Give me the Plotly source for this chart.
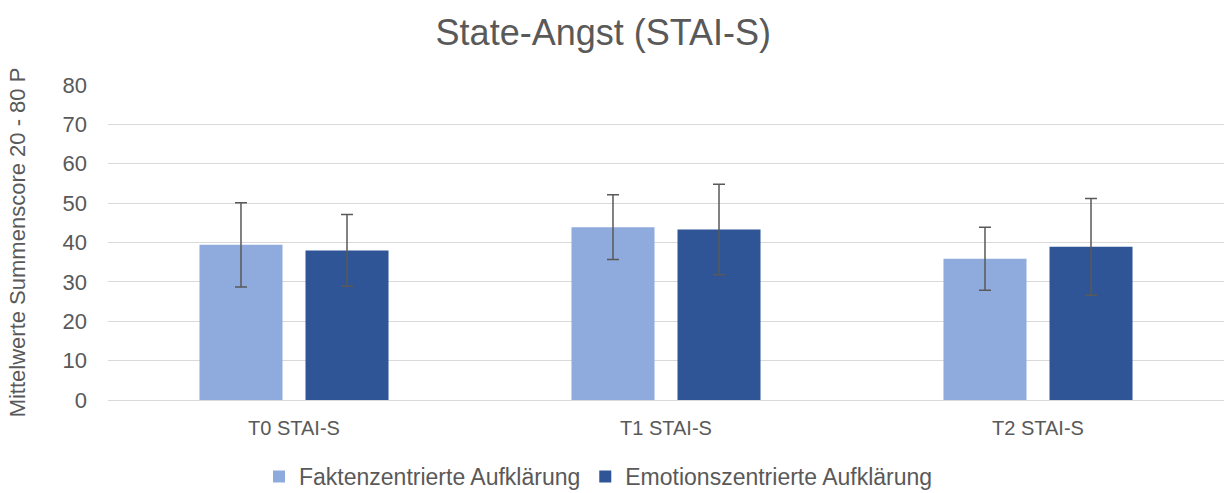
import plotly.graph_objects as go

categories = ["T0 STAI-S", "T1 STAI-S", "T2 STAI-S"]
series_names = ["Faktenzentrierte Aufklärung", "Emotionszentrierte Aufklärung"]
fakten_mean = [39.4, 43.9, 35.9]
fakten_sd = [10.7, 8.2, 8.0]
emotion_mean = [38.0, 43.3, 38.9]
emotion_sd = [9.1, 11.5, 12.3]
y_ticks = [0, 10, 20, 30, 40, 50, 60, 70, 80]

colors = ["#8FAADC", "#2F5597"]
err_color = "#595959"
text_color = "#595959"
font_family = "Liberation Sans, Arial, sans-serif"

fig = go.Figure()
for name, means, sds, col in [
    (series_names[0], fakten_mean, fakten_sd, colors[0]),
    (series_names[1], emotion_mean, emotion_sd, colors[1]),
]:
    fig.add_trace(go.Bar(
        x=categories, y=means, name=name,
        marker=dict(color=col, line=dict(width=0)),
        error_y=dict(type="data", array=sds, visible=True,
                     color=err_color, thickness=1.5, width=6),
    ))

fig.update_layout(
    width=1225, height=493,
    paper_bgcolor="white", plot_bgcolor="white",
    margin=dict(l=108, r=1, t=85, b=93, autoexpand=False),
    barmode="group", bargap=0.43, bargroupgap=0.217,
    font=dict(family=font_family, color=text_color, size=20),
    title=dict(text="State-Angst (STAI-S)", x=0.4925, xanchor="center",
               y=1 - 32 / 493, yanchor="middle",
               font=dict(size=36, color=text_color)),
    showlegend=True,
    legend=dict(orientation="h", x=0.1353, xanchor="left",
                y=-0.243, yanchor="middle",
                font=dict(size=23, color=text_color),
                itemwidth=30, traceorder="normal"),
    xaxis=dict(showgrid=False, showline=False, ticks="", ticklabelstandoff=14,
               automargin=False, tickfont=dict(size=20, color=text_color)),
    yaxis=dict(range=[0, 80], tickvals=y_ticks, showgrid=True,
               gridcolor="#D9D9D9", gridwidth=1, zeroline=True,
               zerolinecolor="#D9D9D9", zerolinewidth=1, showline=False,
               ticks="", ticklabelstandoff=20, automargin=False,
               tickfont=dict(size=22, color=text_color),
               title=dict(text="Mittelwerte Summenscore 20 - 80 P",
                          standoff=30, font=dict(size=22, color=text_color))),
)

fig.write_html("out.html", config={"displayModeBar": False},
               post_script="document.body.style.margin='0px';")
